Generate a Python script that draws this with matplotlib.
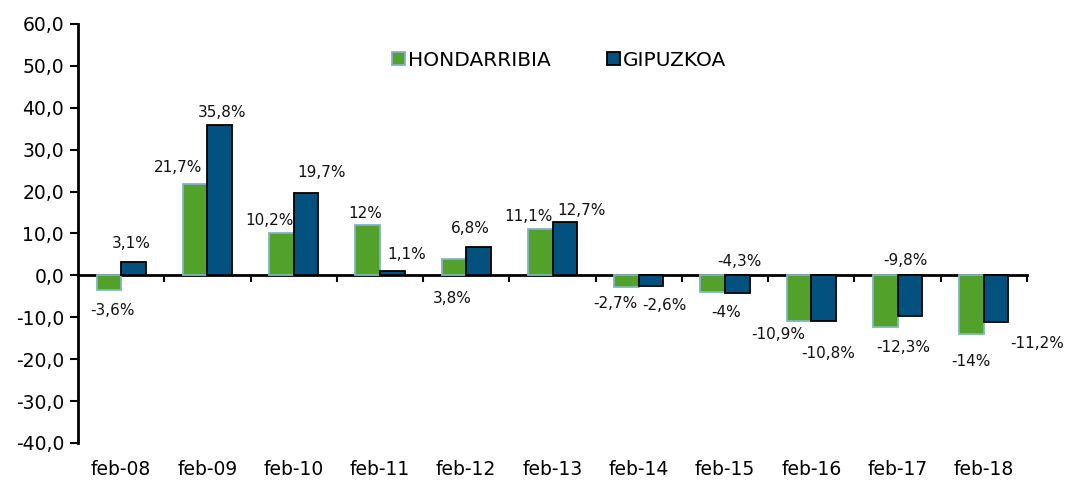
import matplotlib
matplotlib.use('Agg')
import matplotlib.pyplot as plt
import numpy as np

# =====datos
categorias = ['feb-08', 'feb-09', 'feb-10', 'feb-11', 'feb-12', 'feb-13',
              'feb-14', 'feb-15', 'feb-16', 'feb-17', 'feb-18']
hondarribia = [-3.6, 21.7, 10.2, 12, 3.8, 11.1, -2.7, -4, -10.9, -12.3, -14]
gipuzkoa = [3.1, 35.8, 19.7, 1.1, 6.8, 12.7, -2.6, -4.3, -10.8, -9.8, -11.2]
y_ticks = [-40, -30, -20, -10, 0, 10, 20, 30, 40, 50, 60]

# desplazamiento de las etiquetas (pixeles) respecto al extremo de cada barra
off_h = [(4, -20), (-17, 17), (-12, 12), (-2, 12), (-2, -39), (-12, 12),
         (-11, -17), (13, -20), (-21, -13), (18, -21), (-1, -27)]
off_g = [(-2, 19), (2, 13), (16, 20), (14, 16), (-8, 18), (17, 12),
         (13, -19), (2, 32), (5, -33), (-4, 56), (41, -21)]

verde = '#52a12b'
verde_borde = '#82b4c4'
azul = '#02517f'


def etiqueta(v):
    return ('%g' % v).replace('.', ',') + '%'


fig = plt.figure(figsize=(10.68, 4.8), dpi=100)
ax = fig.add_axes([78 / 1068, 37 / 480, 949 / 1068, 419 / 480])

x = np.arange(len(categorias))
w = 0.285
b1 = ax.bar(x - w / 2, hondarribia, w, color=verde, edgecolor=verde_borde,
            linewidth=1.3, label='HONDARRIBIA', zorder=3)
b2 = ax.bar(x + w / 2, gipuzkoa, w, color=azul, edgecolor='black',
            linewidth=1.3, label='GIPUZKOA', zorder=3)

for barras, vals, offs in [(b1, hondarribia, off_h), (b2, gipuzkoa, off_g)]:
    for rect, v, (dx, dy) in zip(barras, vals, offs):
        ax.annotate(etiqueta(v), (rect.get_x() + rect.get_width() / 2, v),
                    xytext=(dx, dy), textcoords='offset pixels',
                    ha='center', va='center', fontsize=11, color='#111111')

ax.set_xlim(-0.5, len(categorias) - 0.5)
ax.set_ylim(-40, 60)
ax.set_yticks(y_ticks)
ax.set_yticklabels([('%.1f' % v).replace('.', ',') for v in y_ticks], fontsize=13.5)
ax.tick_params(axis='y', direction='out', length=6, width=1.5, pad=4)

# eje x en el cero, marcas entre categorias
ax.spines['bottom'].set_position(('data', 0))
ax.spines['bottom'].set_linewidth(2)
ax.spines['left'].set_linewidth(2)
ax.spines['top'].set_visible(False)
ax.spines['right'].set_visible(False)
ax.set_xticks(list(x[1:] - 0.5) + [len(categorias) - 0.5])
ax.set_xticklabels([])
ax.tick_params(axis='x', direction='out', length=5, width=1.5)

sec = ax.secondary_xaxis('bottom')
sec.set_xticks(x)
sec.set_xticklabels(categorias, fontsize=13.5)
sec.tick_params(length=0, pad=12)
sec.spines['bottom'].set_visible(False)

ax.legend(loc='center', bbox_to_anchor=(0.507, 0.914), ncol=2, frameon=False,
          fontsize=14.5, handlelength=0.65, handleheight=0.65,
          handletextpad=0.15, columnspacing=2.8)

fig.savefig('out.png', dpi=100)
